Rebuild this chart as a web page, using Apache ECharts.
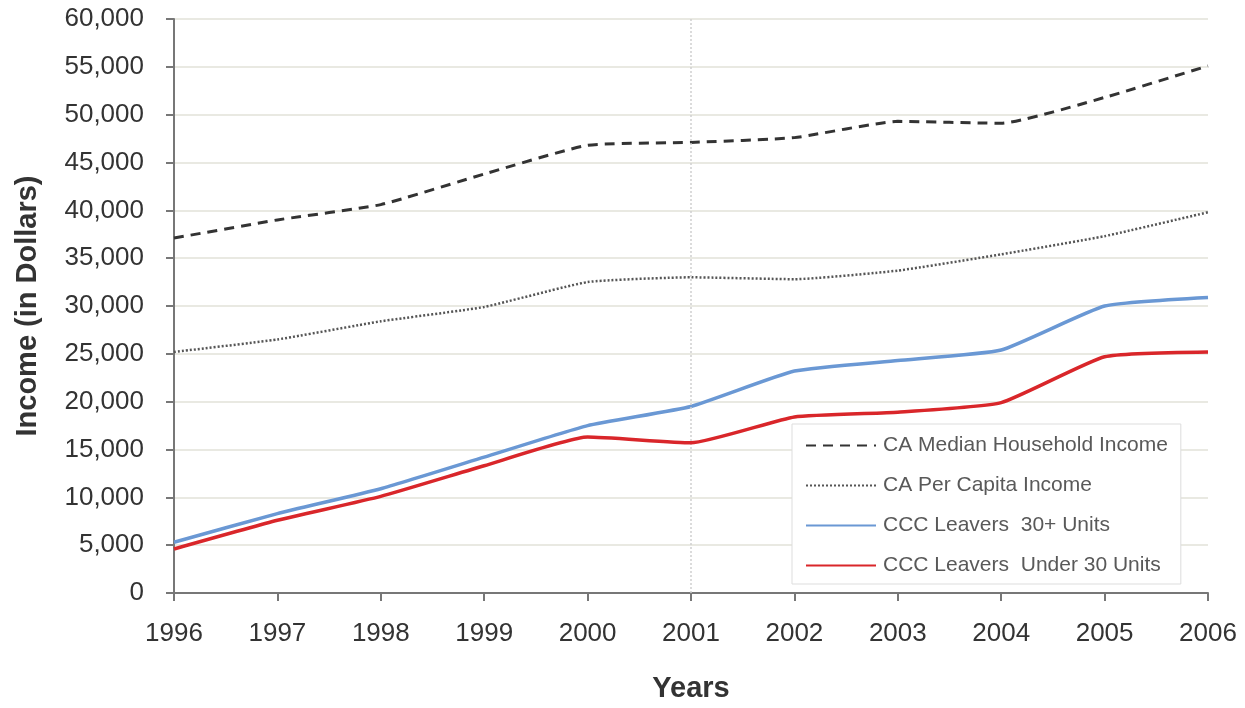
<!DOCTYPE html>
<html>
<head>
<meta charset="utf-8">
<script src="https://cdn.jsdelivr.net/npm/echarts@6/dist/echarts.min.js"></script>
<style>
  html, body { margin: 0; padding: 0; background: #fff; overflow: hidden; }
  #chart { width: 1245px; height: 708px; }
</style>
</head>
<body>
<div id="chart"></div>
<script>
// Income comparison, 1996-2006
const years = ['1996', '1997', '1998', '1999', '2000', '2001', '2002', '2003', '2004', '2005', '2006'];
const caMedianHousehold = [37100, 39000, 40600, 43800, 46800, 47100, 47600, 49300, 49100, 51800, 55100];
const caPerCapita = [25200, 26500, 28400, 29900, 32500, 33000, 32800, 33700, 35400, 37300, 39800];
const leavers30Plus = [5300, 8300, 10900, 14200, 17500, 19500, 23200, 24300, 25400, 30000, 30900];
const leaversUnder30 = [4600, 7600, 10100, 13300, 16300, 15700, 18400, 18900, 19900, 24700, 25200];
const seriesNames = [
  'CA Median Household Income',
  'CA Per Capita Income',
  'CCC Leavers  30+ Units',
  'CCC Leavers  Under 30 Units'
];
const markerYear = '2001';

const FONT = '"Liberation Sans", Arial, sans-serif';
const AXIS_GREY = '#777777';
const chart = echarts.init(document.getElementById('chart'));

chart.setOption({
  animation: false,
  backgroundColor: '#ffffff',
  textStyle: { fontFamily: FONT },
  grid: { left: 174, width: 1034, top: 19, height: 574, containLabel: false },
  legend: {
    orient: 'vertical',
    left: 792,
    top: 424,
    padding: [11, 13, 8, 13],
    itemGap: 19,
    itemWidth: 70,
    itemHeight: 20,
    backgroundColor: '#ffffff',
    borderColor: '#dddddd',
    borderWidth: 1,
    itemStyle: { opacity: 0 },
    textStyle: { fontFamily: FONT, fontSize: 21, lineHeight: 20, color: '#595959', padding: [0, 0, 0, 2] },
    data: seriesNames.map(n => ({ name: n }))
  },
  xAxis: {
    type: 'category',
    data: years,
    boundaryGap: false,
    name: 'Years',
    nameLocation: 'middle',
    nameGap: 81,
    nameTextStyle: { fontFamily: FONT, fontSize: 29, fontWeight: 'bold', color: '#333333' },
    axisLine: { lineStyle: { color: AXIS_GREY, width: 2 } },
    axisTick: { show: true, length: 8, alignWithLabel: true, lineStyle: { color: AXIS_GREY, width: 2 } },
    axisLabel: { fontFamily: FONT, fontSize: 26, color: '#333333', margin: 28 },
    splitLine: { show: false }
  },
  yAxis: {
    type: 'value',
    min: 0,
    max: 60000,
    interval: 5000,
    name: 'Income (in Dollars)',
    nameLocation: 'middle',
    nameGap: 132,
    nameTextStyle: { fontFamily: FONT, fontSize: 29, fontWeight: 'bold', color: '#333333' },
    axisLine: { show: true, lineStyle: { color: AXIS_GREY, width: 2 } },
    axisTick: { show: true, length: 8, lineStyle: { color: AXIS_GREY, width: 2 } },
    axisLabel: {
      fontFamily: FONT, fontSize: 26, color: '#333333', margin: 30,
      formatter: v => v.toLocaleString('en-US')
    },
    splitLine: { show: true, lineStyle: { color: '#e9e9e2', width: 2 } }
  },
  series: [
    {
      name: seriesNames[0],
      type: 'line',
      data: caMedianHousehold,
      smooth: 0.15,
      symbol: 'none',
      lineStyle: { color: '#333333', width: 3, type: [10, 7] },
      itemStyle: { color: '#333333' },
      markLine: {
        silent: true,
        symbol: 'none',
        label: { show: false },
        lineStyle: { color: '#d0d0d0', width: 1.5, type: [2, 2] },
        data: [{ xAxis: markerYear }]
      },
      z: 3
    },
    {
      name: seriesNames[1],
      type: 'line',
      data: caPerCapita,
      smooth: 0.15,
      symbol: 'none',
      lineStyle: { color: '#555555', width: 2.5, type: [2, 2] },
      itemStyle: { color: '#555555' },
      z: 3
    },
    {
      name: seriesNames[2],
      type: 'line',
      data: leavers30Plus,
      smooth: 0.15,
      symbol: 'none',
      lineStyle: { color: '#6a98d4', width: 3.5 },
      itemStyle: { color: '#6a98d4' },
      z: 4
    },
    {
      name: seriesNames[3],
      type: 'line',
      data: leaversUnder30,
      smooth: 0.15,
      symbol: 'none',
      lineStyle: { color: '#d9262a', width: 3.5 },
      itemStyle: { color: '#d9262a' },
      z: 5
    }
  ]
});
</script>
</body>
</html>
